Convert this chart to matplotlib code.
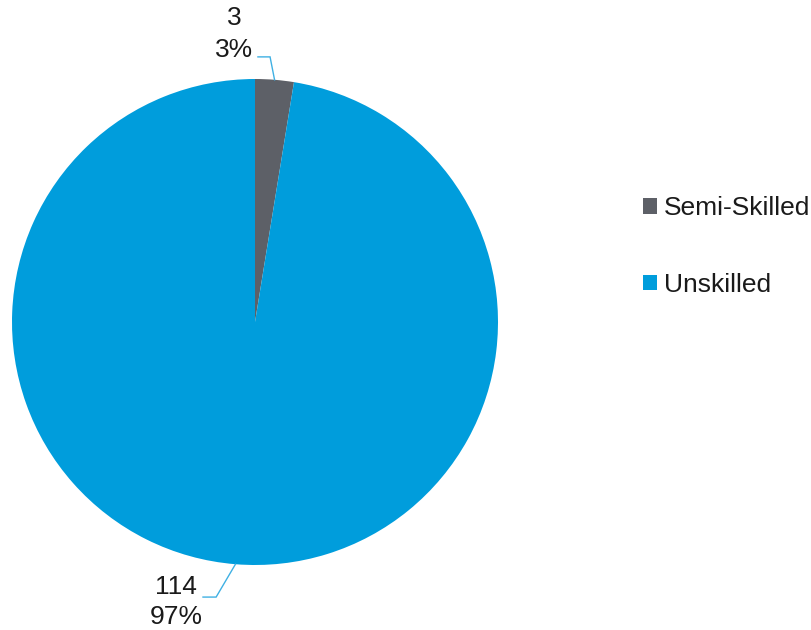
import numpy as np
import matplotlib
matplotlib.use("Agg")
import matplotlib.pyplot as plt
from matplotlib.patches import Patch

plt.rcParams['font.family'] = ['Liberation Sans', 'DejaVu Sans']

categories = ["Semi-Skilled", "Unskilled"]
counts = [3, 114]
colors = ["#5D6067", "#009DDC"]

W, H = 812, 630
fig = plt.figure(figsize=(W / 100, H / 100), dpi=100)

# Pie axes: centre and radius in pixels
cx, cy, r = 255, 322, 243
ax = fig.add_axes([(cx - r) / W, (H - cy - r) / H, 2 * r / W, 2 * r / H])
wedges, _ = ax.pie(counts, colors=colors, startangle=90, counterclock=False,
                   radius=1.0, wedgeprops=dict(linewidth=0))
ax.set_xlim(-1, 1)
ax.set_ylim(-1, 1)
ax.set_aspect('equal')
ax.axis('off')

total = sum(counts)
pcts = [round(100 * c / total) for c in counts]

# Data labels with elbow leader lines
label_specs = [
    # (elbow, line end, text centre x, baselines of the two lines)
    ((0.062, 1.091), (0.012, 1.091), -0.086, (1.222, 1.090)),
    ((-0.160, -1.132), (-0.214, -1.132), -0.325, (-1.121, -1.243)),
]
for w, c, p, (elbow, end, tx, (y1, y2)) in zip(wedges, counts, pcts, label_specs):
    mid = np.deg2rad((w.theta1 + w.theta2) / 2)
    start = (np.cos(mid), np.sin(mid))
    ax.plot([start[0], elbow[0], end[0]], [start[1], elbow[1], end[1]],
            color="#3FB0E3", lw=1.0, clip_on=False, solid_joinstyle='miter')
    for y, s in ((y1, f"{c}"), (y2, f"{p}%")):
        ax.text(tx, y, s, ha='center', va='baseline', fontsize=19,
                color="#1a1a1a", clip_on=False)

handles = [Patch(facecolor=col, edgecolor='none') for col in colors]
fig.legend(handles, categories, loc='center left',
           bbox_to_anchor=(643 / W, 1 - 246.5 / H), frameon=False,
           fontsize=19, handlelength=0.53, handleheight=0.53,
           handletextpad=0.27, labelspacing=2.0, borderpad=0,
           borderaxespad=0, labelcolor="#1a1a1a")

fig.savefig("out.png", dpi=100, facecolor='white')
